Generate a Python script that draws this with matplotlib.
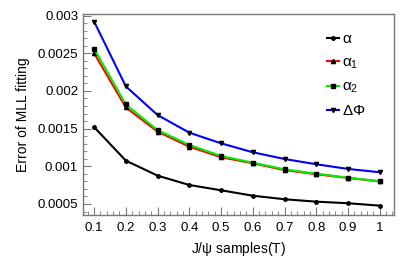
import matplotlib
matplotlib.use("Agg")
import matplotlib.pyplot as plt
from matplotlib.ticker import MultipleLocator

plt.rcParams['font.family'] = ['Liberation Sans', 'DejaVu Sans']
plt.rcParams['mathtext.fontset'] = 'custom'
plt.rcParams['mathtext.rm'] = 'Liberation Sans'
plt.rcParams['mathtext.it'] = 'Liberation Sans'

samples = [0.1, 0.2, 0.3, 0.4, 0.5, 0.6, 0.7, 0.8, 0.9, 1.0]
alpha = [0.00152, 0.001075, 0.000876, 0.000752, 0.000682, 0.00061, 0.000563, 0.000531, 0.00051, 0.000478]
alpha1 = [0.00250, 0.00178, 0.00146, 0.00126, 0.00112, 0.00104, 0.00095, 0.000895, 0.000845, 0.000800]
alpha2 = [0.00256, 0.00182, 0.00148, 0.001283, 0.001137, 0.001048, 0.00096, 0.000902, 0.000849, 0.000801]
dphi = [0.00292, 0.00206, 0.00168, 0.001446, 0.001305, 0.001186, 0.001097, 0.001027, 0.000965, 0.000921]
labels = [r'$\alpha$', r'$\alpha_{1}$', r'$\alpha_{2}$', r'$\Delta\Phi$']

fig = plt.figure(figsize=(4.15, 2.71), dpi=100)
ax = fig.add_axes([83/415, 1-215/271, (394-83)/415, (215-14)/271])

ax.plot(samples, alpha, color='black', lw=1.5, marker='o', ms=2.5, mfc='black', mec='black', label=labels[0])
ax.plot(samples, alpha2, color='#00ee00', lw=1.5, marker='s', ms=3.2, mfc='black', mec='black', label=labels[2], zorder=3)
ax.plot(samples, alpha1, color='#ff0000', lw=1.5, marker='^', ms=3, mfc='black', mec='black', label=labels[1], zorder=2)
ax.plot(samples, dphi, color='#0000ff', lw=1.5, marker='v', ms=3, mfc='black', mec='black', label=labels[3])

ax.set_xlim(0.065, 1.045)
ax.set_ylim(0.000354, 0.00302)
ax.xaxis.set_major_locator(MultipleLocator(0.1))
ax.xaxis.set_minor_locator(MultipleLocator(0.02))
ax.yaxis.set_major_locator(MultipleLocator(0.0005))
ax.yaxis.set_minor_locator(MultipleLocator(0.0001))
ax.set_xticks(samples)
ax.set_xticklabels(['0.1', '0.2', '0.3', '0.4', '0.5', '0.6', '0.7', '0.8', '0.9', '1'])
ax.set_yticks([0.0005, 0.001, 0.0015, 0.002, 0.0025, 0.003])
ax.set_yticklabels(['0.0005', '0.001', '0.0015', '0.002', '0.0025', '0.003'])

for s in ax.spines.values():
    s.set_color('#777777')
    s.set_linewidth(1.0)
ax.tick_params(which='both', direction='in', color='#777777', labelsize=9.5, top=False, right=False)
ax.tick_params(which='major', length=6)
ax.tick_params(which='minor', length=3)
ax.tick_params(axis='x', pad=5)

ax.set_xlabel(r'J/$\psi$ samples(T)', fontsize=10)
ax.set_ylabel('Error of MLL fitting', fontsize=10)
ax.yaxis.set_label_coords(-0.172, 0.5)

h, l = ax.get_legend_handles_labels()
order = [0, 2, 1, 3]
leg = ax.legend([h[i] for i in order], [l[i] for i in order], loc='upper left',
                bbox_to_anchor=(0.765, 0.94), frameon=False, handlelength=0.8,
                handletextpad=0.2, labelspacing=0.6, fontsize=11, borderaxespad=0.0)

fig.savefig('out.png', dpi=100)
